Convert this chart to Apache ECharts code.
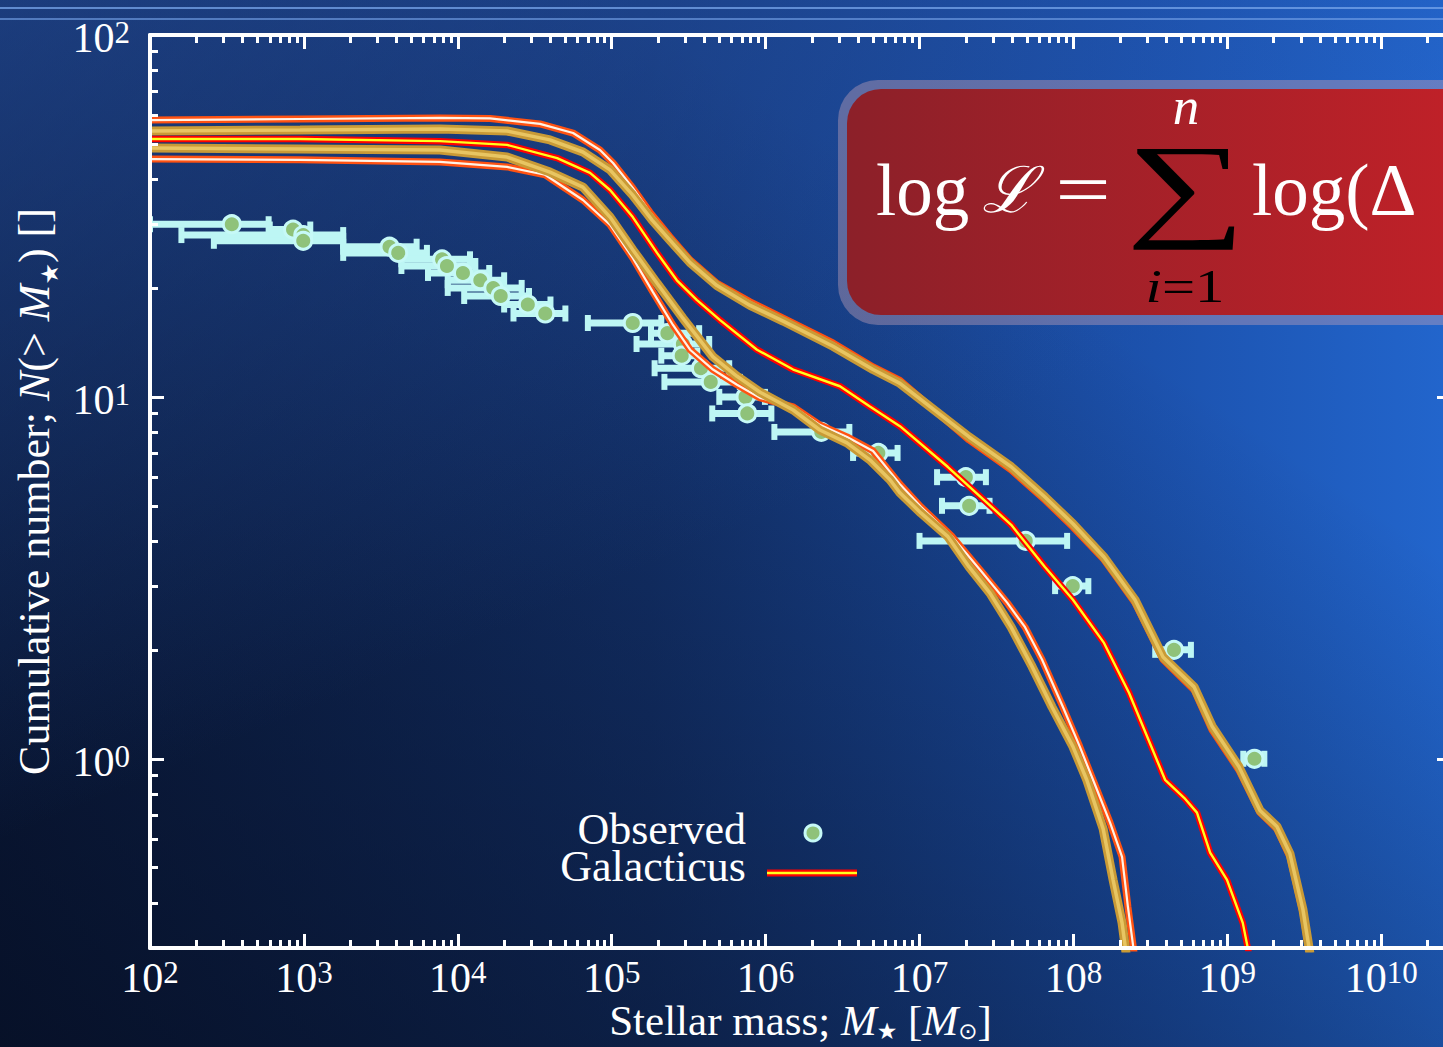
<!DOCTYPE html>
<html>
<head>
<meta charset="utf-8">
<script src="https://cdn.jsdelivr.net/npm/echarts@6/dist/echarts.min.js"></script>
<style>
  html, body { margin: 0; padding: 0; background: #12306a; }
  #chart { width: 1443px; height: 1047px; }
</style>
</head>
<body>
<div id="chart"></div>
<script>
// ---- axis ranges ----
const massRange = [1e2, 2.84e10];   // stellar mass, M_sun
const countRange = [0.3, 100];      // cumulative number

// ---- tick labels (powers of ten) ----
const massTickExponents = [2, 3, 4, 5, 6, 7, 8, 9, 10];
const countTickExponents = [0, 1, 2];

// ---- observed satellites: mass, cumulative count, mass error range ----
const obsMass = [3.4e2, 8.5e2, 9.9e2, 9.9e2, 3.6e3, 4.1e3, 7.9e3, 8.5e3, 1.08e4, 1.4e4,
  1.7e4, 1.9e4, 2.85e4, 3.7e4, 1.37e5, 2.3e5, 2.9e5, 2.85e5, 3.8e5, 4.4e5,
  7.4e5, 7.6e5, 2.3e6, 5.4e6, 2.0e7, 2.1e7, 4.9e7, 9.9e7, 4.5e8, 1.5e9];
const obsCount = [30, 29, 28, 27, 26, 25, 24, 23, 22, 21,
  20, 19, 18, 17, 16, 15, 14, 13, 12, 11,
  10, 9, 8, 7, 6, 5, 4, 3, 2, 1];
const obsMassLow = [1.0e2, 6.0e2, 1.6e2, 2.6e2, 1.8e3, 1.8e3, 4.3e3, 4.3e3, 6.4e3, 8.6e3,
  8.6e3, 1.1e4, 2.0e4, 2.3e4, 7.0e4, 1.8e5, 1.45e5, 2.1e5, 1.9e5, 2.2e5,
  5.0e5, 4.5e5, 1.14e6, 3.7e6, 1.3e7, 1.4e7, 1.0e7, 7.6e7, 3.4e8, 1.27e9];
const obsMassHigh = [5.9e2, 1.1e3, 1.8e3, 1.8e3, 5.4e3, 6.3e3, 1.2e4, 1.3e4, 1.6e4, 2.0e4,
  2.6e4, 2.9e4, 4.0e4, 5.0e4, 2.1e5, 3.7e5, 4.3e5, 3.6e5, 5.8e5, 6.8e5,
  9.9e5, 1.09e6, 3.5e6, 7.2e6, 2.7e7, 2.85e7, 9.1e7, 1.25e8, 5.8e8, 1.74e9];

// ---- Galacticus: median and percentile envelopes ----
const outerHighMass = [1.00e2, 9.44e2, 7.66e3, 1.62e4, 3.42e4, 5.61e4, 8.39e4, 1.02e5, 1.37e5, 1.77e5,
  2.39e5, 3.23e5, 4.83e5, 7.93e5, 1.30e6, 2.74e6, 4.99e6, 7.46e6, 2.10e7, 3.94e7,
  6.53e7, 9.93e7, 1.58e8, 2.51e8, 3.82e8, 6.08e8, 7.96e8, 1.19e9, 1.63e9, 2.10e9,
  2.55e9, 3.10e9, 3.40e9];
const outerHighCount = [58.2, 58.6, 59.0, 58.8, 56.8, 53.6, 48.1, 44.3, 37.8, 32.4,
  27.7, 23.9, 20.6, 18.3, 16.5, 14.1, 12.1, 11.1, 7.6, 6.28,
  5.19, 4.37, 3.55, 2.70, 1.88, 1.55, 1.20, 0.93, 0.71, 0.64,
  0.536, 0.375, 0.29];

const innerHighMass = [1.00e2, 9.44e2, 7.66e3, 2.09e4, 3.97e4, 6.50e4, 9.75e4, 1.37e5, 1.83e5, 2.39e5,
  3.23e5, 4.83e5, 7.93e5, 1.30e6, 2.74e6, 4.99e6, 7.46e6, 2.10e7, 3.94e7, 6.53e7,
  9.93e7, 1.58e8, 2.51e8, 3.82e8, 6.08e8, 7.96e8, 1.19e9, 1.63e9, 2.10e9, 2.55e9,
  3.10e9, 3.44e9];
const innerHighCount = [54.3, 54.6, 55.0, 54.3, 51.3, 47.5, 42.4, 36.1, 30.8, 27.1,
  23.5, 20.3, 17.9, 16.2, 13.8, 11.9, 10.9, 7.75, 6.41, 5.29,
  4.46, 3.61, 2.75, 1.91, 1.58, 1.23, 0.95, 0.72, 0.65, 0.547,
  0.383, 0.29];

const medianMass = [1.00e2, 9.44e2, 7.66e3, 2.09e4, 4.42e4, 7.23e4, 9.75e4, 1.37e5, 1.97e5, 2.65e5,
  3.58e5, 5.06e5, 8.79e5, 1.51e6, 3.04e6, 4.76e6, 7.46e6, 1.53e7, 3.94e7, 6.53e7,
  9.93e7, 1.58e8, 2.30e8, 3.94e8, 5.24e8, 6.35e8, 7.73e8, 9.95e8, 1.26e9, 1.38e9];
const medianCount = [51.6, 51.6, 50.9, 49.7, 45.7, 41.6, 37.3, 31.4, 25.0, 21.0,
  18.5, 16.3, 13.5, 11.9, 10.7, 9.4, 8.3, 6.4, 4.43, 3.39,
  2.75, 2.09, 1.52, 0.875, 0.78, 0.71, 0.55, 0.463, 0.352, 0.29];

const innerLowMass = [1.00e2, 9.44e2, 7.66e3, 2.09e4, 3.97e4, 6.50e4, 9.75e4, 1.37e5, 1.97e5, 2.90e5,
  4.55e5, 6.52e5, 9.20e5, 1.51e6, 2.25e6, 3.38e6, 4.76e6, 6.43e6, 7.46e6, 1.02e7,
  1.53e7, 2.10e7, 2.87e7, 3.94e7, 5.38e7, 7.26e7, 9.93e7, 1.22e8, 1.56e8, 1.81e8,
  2.07e8, 2.20e8];
const innerLowCount = [48.7, 48.4, 48.1, 46.0, 41.8, 38.0, 31.4, 25.5, 20.6, 16.5,
  12.9, 11.4, 10.3, 9.2, 8.1, 7.46, 6.70, 5.90, 5.43, 4.78,
  4.11, 3.39, 2.87, 2.31, 1.80, 1.39, 1.08, 0.875, 0.64, 0.463,
  0.352, 0.29];

const outerLowMass = [1.00e2, 9.44e2, 7.66e3, 2.09e4, 3.69e4, 6.50e4, 9.75e4, 1.37e5, 1.85e5, 2.50e5,
  3.23e5, 4.55e5, 6.52e5, 9.20e5, 1.51e6, 2.25e6, 3.38e6, 4.99e6, 7.46e6, 1.02e7,
  1.63e7, 2.47e7, 3.71e7, 4.85e7, 6.25e7, 8.55e7, 1.10e8, 1.34e8, 1.73e8, 2.07e8,
  2.26e8, 2.48e8];
const outerLowCount = [45.4, 45.2, 44.6, 43.2, 41.1, 35.0, 29.9, 24.2, 19.5, 15.8,
  13.5, 11.9, 10.8, 9.94, 9.39, 8.37, 7.75, 7.09, 5.74, 4.97,
  4.11, 3.33, 2.70, 2.31, 1.88, 1.39, 1.08, 0.875, 0.666, 0.536,
  0.390, 0.29];

// ---- helpers ----
const lg = Math.log10;
const SERIF = "'Liberation Serif', 'DejaVu Serif', serif";
const X_MIN = lg(massRange[0]), X_MAX = lg(massRange[1]);
const Y_MIN = lg(countRange[0]), Y_MAX = lg(countRange[1]);

// positions of the 2..9 sub-decade ticks inside [lo, hi] (log space)
function minorTicks(lo, hi) {
  const out = [];
  for (let e = Math.floor(lo) - 1; e <= Math.ceil(hi); e++) {
    for (let k = 2; k <= 9; k++) {
      const v = e + lg(k);
      if (v > lo + 1e-9 && v < hi - 1e-9) out.push(v);
    }
  }
  return out;
}
const majorX = massTickExponents.slice();
const majorY = countTickExponents.slice();
const minorX = minorTicks(X_MIN, X_MAX);
const minorY = minorTicks(Y_MIN, Y_MAX);

const tickRich = {
  b: { fontFamily: SERIF, fontSize: 42, lineHeight: 42, color: '#fff', verticalAlign: 'top' },
  s: { fontFamily: SERIF, fontSize: 31, lineHeight: 31, color: '#fff', verticalAlign: 'top' }
};
const powerLabel = v => '{b|10}{s|' + Math.round(v) + '}';

const white = '#ffffff';
function frameAxis(dim, position, ticks, len, extra) {
  const isX = dim === 'x';
  return Object.assign({
    type: 'value', position: position,
    min: isX ? X_MIN : Y_MIN, max: isX ? X_MAX : Y_MAX,
    z: 6,
    axisLine: { show: false, onZero: false, lineStyle: { color: white, width: 4 } },
    axisTick: { show: true, inside: true, length: len, customValues: ticks,
      lineStyle: { color: white, width: 3 } },
    axisLabel: { show: false },
    splitLine: { show: false },
    axisPointer: { show: false }
  }, extra || {});
}

const yNameRich = {
  r: { fontFamily: SERIF, fontSize: 44, lineHeight: 54, color: '#fff' },
  i: { fontFamily: SERIF, fontSize: 44, lineHeight: 54, color: '#fff', fontStyle: 'italic' },
  sub: { fontFamily: "'DejaVu Sans', sans-serif", fontSize: 24, lineHeight: 36, color: '#fff', verticalAlign: 'bottom' }
};
const xNameRich = {
  r: { fontFamily: SERIF, fontSize: 43, lineHeight: 44, color: '#fff' },
  i: { fontFamily: SERIF, fontSize: 43, lineHeight: 44, color: '#fff', fontStyle: 'italic' },
  sub: { fontFamily: "'DejaVu Sans', sans-serif", fontSize: 23, lineHeight: 24, color: '#fff', verticalAlign: 'bottom' }
};

const xAxes = [
  frameAxis('x', 'bottom', majorX, 14, {
    axisLine: { show: true, onZero: false, lineStyle: { color: white, width: 4 } },
    axisLabel: { show: true, customValues: majorX, margin: 9, formatter: powerLabel, rich: tickRich },
    name: '{r|Stellar mass; }{i|M}{sub|★}{r| [}{i|M}{sub|⊙}{r|]}',
    nameLocation: 'middle', nameGap: 50, nameMoveOverlap: false,
    nameTextStyle: { rich: xNameRich }
  }),
  frameAxis('x', 'bottom', minorX, 8),
  frameAxis('x', 'top', majorX, 14, {
    axisLine: { show: true, onZero: false, lineStyle: { color: white, width: 4 } }
  }),
  frameAxis('x', 'top', minorX, 8)
];
const yAxes = [
  frameAxis('y', 'left', majorY, 14, {
    axisLine: { show: true, onZero: false, lineStyle: { color: white, width: 4 } },
    axisLabel: { show: true, customValues: majorY, margin: 20, padding: [6, 0, 0, 0],
      formatter: powerLabel, rich: tickRich },
    name: '{r|Cumulative number; }{i|N}{r|(> }{i|M}{sub|★}{r|) []}',
    nameLocation: 'middle', nameGap: 88, nameRotate: 90,
    nameTextStyle: { rich: yNameRich }
  }),
  frameAxis('y', 'left', minorY, 8),
  frameAxis('y', 'right', majorY, 14, {
    axisLine: { show: true, onZero: false, lineStyle: { color: white, width: 4 } }
  }),
  frameAxis('y', 'right', minorY, 8)
];

// ---- series ----
const toXY = (mass, count) => mass.map((m, i) => [lg(m), lg(count[i])]);

// each curve is a broad stroke with a thin bright core on top
function curve(name, mass, count, outer, inner) {
  const data = toXY(mass, count);
  const base = { type: 'line', data: data, symbol: 'none', showSymbol: false, silent: true,
    clip: true, animation: false, z: 3 };
  return [
    Object.assign({}, base, { name: name, lineStyle: outer, itemStyle: { color: outer.color } }),
    Object.assign({}, base, { name: name + ' core', lineStyle: inner, itemStyle: { color: inner.color } })
  ];
}
const outerStroke = { color: '#ff5212', width: 7 }, outerCore = { color: '#fff3e6', width: 2.2 };
const goldStroke = { color: '#c99a36', width: 9 }, goldCore = { color: '#e8c562', width: 3.5 };
const redStroke = { color: '#ff0000', width: 6.5 }, yellowCore = { color: '#ffff1e', width: 2.4 };

const errData = obsMass.map((m, i) => [lg(obsMassLow[i]), lg(obsMassHigh[i]), lg(obsCount[i])]);
const barColor = '#bdf6f4';

const series = [
  {
    type: 'custom', name: 'Observed range', data: errData, encode: { x: [0, 1], y: 2 },
    clip: true, silent: true, animation: false, z: 2,
    renderItem: function (params, api) {
      const y = api.value(2);
      const a = api.coord([api.value(0), y]);
      const b = api.coord([api.value(1), y]);
      const capW = 6, capH = 16;
      return {
        type: 'group', children: [
          { type: 'line', shape: { x1: a[0], y1: a[1], x2: b[0], y2: b[1] },
            style: { stroke: barColor, lineWidth: 7 } },
          { type: 'rect', shape: { x: a[0] - capW / 2, y: a[1] - capH / 2, width: capW, height: capH },
            style: { fill: barColor } },
          { type: 'rect', shape: { x: b[0] - capW / 2, y: b[1] - capH / 2, width: capW, height: capH },
            style: { fill: barColor } }
        ]
      };
    }
  },
  {
    type: 'scatter', name: 'Observed', data: toXY(obsMass, obsCount),
    symbol: 'circle', symbolSize: 17, silent: true, animation: false, z: 2,
    itemStyle: { color: '#8fc27a', borderColor: '#c6f9f7', borderWidth: 3, opacity: 1 }
  }
]
  .concat(curve('Galacticus upper', outerHighMass, outerHighCount, outerStroke, outerCore))
  .concat(curve('Galacticus lower', outerLowMass, outerLowCount, outerStroke, outerCore))
  .concat(curve('Galacticus inner upper', innerHighMass, innerHighCount, goldStroke, goldCore))
  .concat(curve('Galacticus inner lower', innerLowMass, innerLowCount, goldStroke, goldCore))
  .concat(curve('Galacticus', medianMass, medianCount, redStroke, yellowCore));

// ---- decorations: backdrop, legend, likelihood panel ----
const LG = echarts.graphic.LinearGradient;
const graphic = [
  { type: 'rect', silent: true, z: -20, shape: { x: 0, y: 0, width: 1443, height: 1047 },
    style: { fill: new LG(0, 0, 1, 0, [
      { offset: 0, color: '#0f2553' }, { offset: 0.45, color: '#153777' },
      { offset: 0.8, color: '#1c52ae' }, { offset: 1, color: '#2265cc' }]) } },
  { type: 'rect', silent: true, z: -19, shape: { x: 0, y: 0, width: 1443, height: 1047 },
    style: { fill: new LG(0, 1, 0.7, 0.25, [
      { offset: 0, color: 'rgba(4,10,26,0.75)' }, { offset: 1, color: 'rgba(4,10,26,0)' }]) } },
  { type: 'rect', silent: true, z: -18, shape: { x: 0, y: 0, width: 1443, height: 1047 },
    style: { fill: new LG(0, 0, 0.35, 0.6, [
      { offset: 0, color: 'rgba(40,85,170,0.55)' }, { offset: 1, color: 'rgba(40,85,170,0)' }]) } },
  { type: 'line', silent: true, z: -17, shape: { x1: 0, y1: 8, x2: 1443, y2: 8 },
    style: { stroke: 'rgba(120,165,235,0.75)', lineWidth: 2 } },
  { type: 'line', silent: true, z: -17, shape: { x1: 0, y1: 19, x2: 1443, y2: 19 },
    style: { stroke: 'rgba(120,165,235,0.6)', lineWidth: 2 } },

  // legend
  { type: 'text', silent: true, z: 50,
    style: { text: 'Observed\nGalacticus', x: 746, y: 848, align: 'right', verticalAlign: 'middle',
      font: '44px ' + SERIF, lineHeight: 37, fill: '#fff' } },
  { type: 'circle', silent: true, z: 50, shape: { cx: 813, cy: 833, r: 8 },
    style: { fill: '#8fc27a', stroke: '#c6f9f7', lineWidth: 3 } },
  { type: 'line', silent: true, z: 50, shape: { x1: 767, y1: 873, x2: 857, y2: 873 },
    style: { stroke: '#ff0000', lineWidth: 7 } },
  { type: 'line', silent: true, z: 51, shape: { x1: 767, y1: 873, x2: 857, y2: 873 },
    style: { stroke: '#ffff1e', lineWidth: 2.5 } },

  // likelihood panel
  { type: 'rect', silent: true, z: 60, shape: { x: 838, y: 80, width: 720, height: 245, r: 40 },
    style: { fill: 'rgba(200,165,185,0.4)' } },
  { type: 'rect', silent: true, z: 61, shape: { x: 847, y: 89, width: 720, height: 226, r: 34 },
    style: { fill: new LG(0, 0, 1, 0, [
      { offset: 0, color: '#8c2029' }, { offset: 1, color: '#c92128' }]) } },
  { type: 'text', silent: true, z: 62,
    style: { text: 'log', x: 876, y: 190, align: 'left', verticalAlign: 'middle',
      font: '73px ' + SERIF, fill: '#fff' } },
  { type: 'text', silent: true, z: 62,
    style: { text: 'ℒ', x: 982, y: 190, align: 'left', verticalAlign: 'middle',
      font: 'italic 64px ' + SERIF, fill: '#fff' } },
  { type: 'text', silent: true, z: 62, x: 1083, y: 190, scaleX: 1.35,
    style: { text: '=', x: 0, y: 0, align: 'center', verticalAlign: 'middle',
      font: '73px ' + SERIF, fill: '#fff' } },
  { type: 'text', silent: true, z: 62, x: 1186, y: 186, scaleX: 1.45,
    style: { text: '{s|∑}', x: 0, y: 0, align: 'center', verticalAlign: 'middle',
      rich: { s: { fontFamily: SERIF, fontSize: 116, lineHeight: 96, color: '#fff' } } } },
  { type: 'text', silent: true, z: 62,
    style: { text: 'n', x: 1186, y: 106, align: 'center', verticalAlign: 'middle',
      font: 'italic 53px ' + SERIF, fill: '#fff' } },
  { type: 'text', silent: true, z: 62, x: 1185, y: 287, scaleX: 1.25,
    style: { text: '{it|i}{up|=1}', x: 0, y: 0, align: 'center', verticalAlign: 'middle',
      rich: {
        it: { fontFamily: SERIF, fontSize: 47, lineHeight: 44, fontStyle: 'italic', color: '#fff' },
        up: { fontFamily: SERIF, fontSize: 47, lineHeight: 44, color: '#fff' }
      } } },
  { type: 'text', silent: true, z: 62,
    style: { text: 'log(Δ', x: 1252, y: 190, align: 'left', verticalAlign: 'middle',
      font: '73px ' + SERIF, fill: '#fff' } }
];

const chart = echarts.init(document.getElementById('chart'), null,
  { renderer: 'svg', width: 1443, height: 1047 });
chart.setOption({
  animation: false,
  backgroundColor: '#12306a',
  grid: { left: 150, top: 35, width: 1301, height: 913, containLabel: false, outerBoundsMode: 'none' },
  xAxis: xAxes,
  yAxis: yAxes,
  series: series,
  graphic: graphic
});
</script>
</body>
</html>
